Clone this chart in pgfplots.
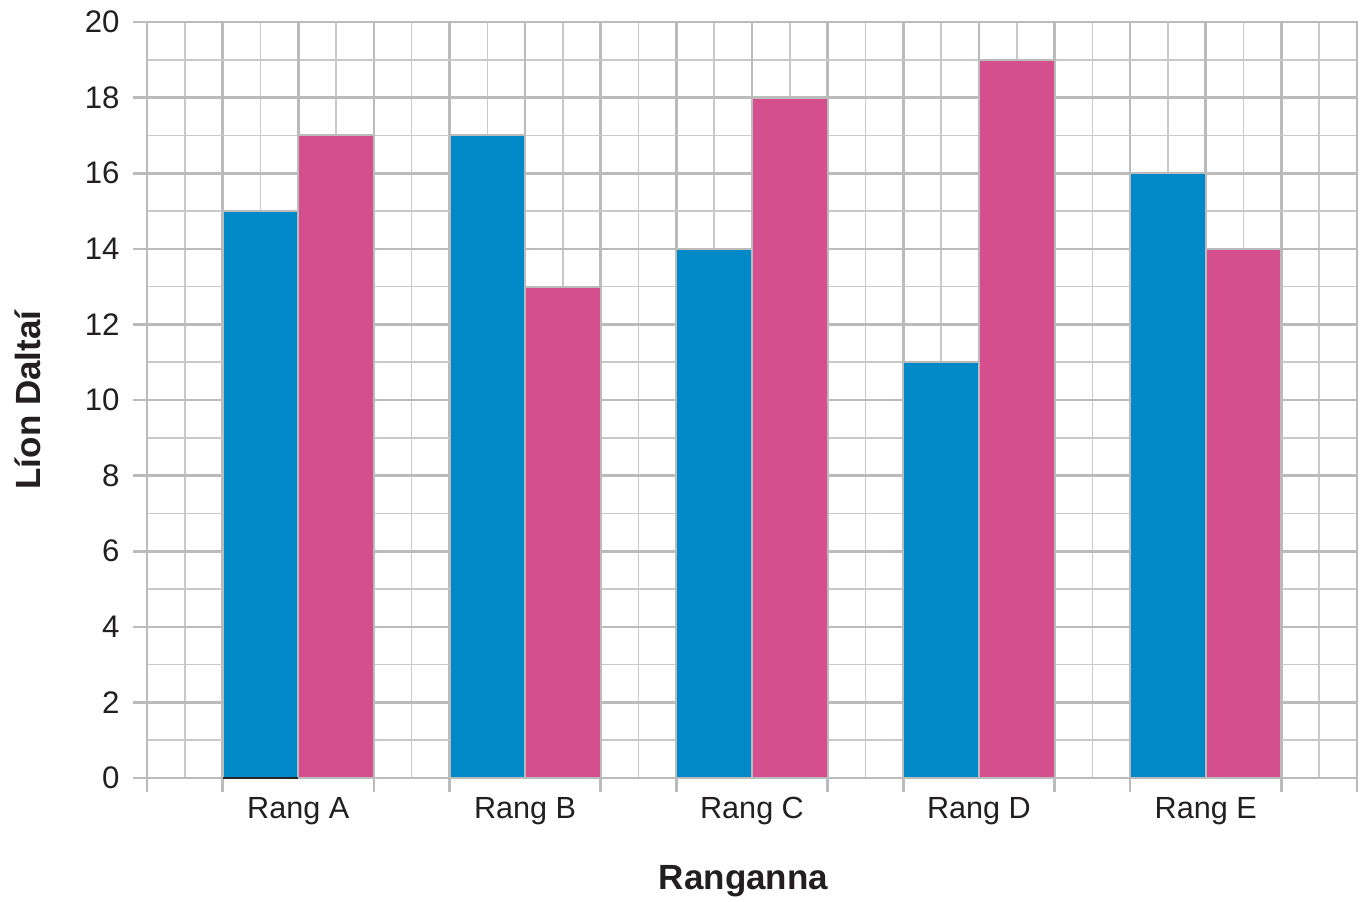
\documentclass[border=0pt]{standalone}
\usepackage{fontspec}
\setmainfont{Liberation Sans}
\usepackage{pgfplots}
\pgfplotsset{compat=1.18}
\definecolor{barblue}{HTML}{0089C8}
\definecolor{barpink}{HTML}{D54E8E}
\definecolor{gridmaj}{HTML}{BBBBBB}
\definecolor{gridmin}{HTML}{C9C9C9}
\definecolor{txt}{HTML}{231F20}
\begin{document}
\begin{tikzpicture}
\begin{axis}[
  scale only axis, width=605pt, height=378pt,
  xmin=0, xmax=16, ymin=0, ymax=20,
  xtick={0,1,3,4,6,7,9,10,12,13,15,16}, xticklabels={},
  minor xtick={0,0.5,...,16},
  ytick={0,2,...,20}, minor y tick num=1,
  grid=both,
  major grid style={draw=gridmaj, line width=1.3pt},
  minor grid style={draw=gridmin, line width=0.8pt},
  axis line style={draw=gridmaj, line width=1.3pt},
  tick style={draw=gridmaj, line width=1.3pt},
  major tick length=7pt, minor tick length=0pt,
  tick align=outside, xtick pos=bottom, ytick pos=left,
  extra x ticks={2,5,8,11,14},
  extra x tick labels={Rang A,Rang B,Rang C,Rang D,Rang E},
  extra x tick style={grid=major, major tick length=0pt, tick style={draw=none}},
  /pgf/number format/assume math mode=true,
  yticklabel style={font=\fontsize{15.6}{18}\selectfont, text=txt, anchor=east, inner sep=0pt, xshift=-6.5pt},
  xticklabel style={font=\fontsize{15.3}{18}\selectfont, text=txt, anchor=base, inner sep=0pt, yshift=-20pt},
  xlabel={Ranganna}, ylabel={Líon Daltaí},
  xlabel style={font=\fontsize{17.5}{21}\selectfont\bfseries, text=txt, at={(axis description cs:0.493,-0.148)}, anchor=base, inner sep=0pt},
  ylabel style={font=\fontsize{17.5}{21}\selectfont\bfseries, text=txt, at={(axis description cs:-0.0884,0.5)}, anchor=base, inner sep=0pt},
]
\addplot[ybar, bar width=1, bar shift=0pt, fill=barblue, draw=gridmaj, line width=1pt]
  coordinates {(1.5,15) (4.5,17) (7.5,14) (10.5,11) (13.5,16)};
\addplot[ybar, bar width=1, bar shift=0pt, fill=barpink, draw=gridmaj, line width=1pt]
  coordinates {(2.5,17) (5.5,13) (8.5,18) (11.5,19) (14.5,14)};
\addplot[black!85, line width=1pt] coordinates {(1,0) (2,0)};
\end{axis}
\pgfresetboundingbox
\path[use as bounding box] ([xshift=-73.5pt,yshift=-61.5pt]current axis.south west) rectangle ([xshift=3pt,yshift=11pt]current axis.north east);
\end{tikzpicture}
\end{document}
